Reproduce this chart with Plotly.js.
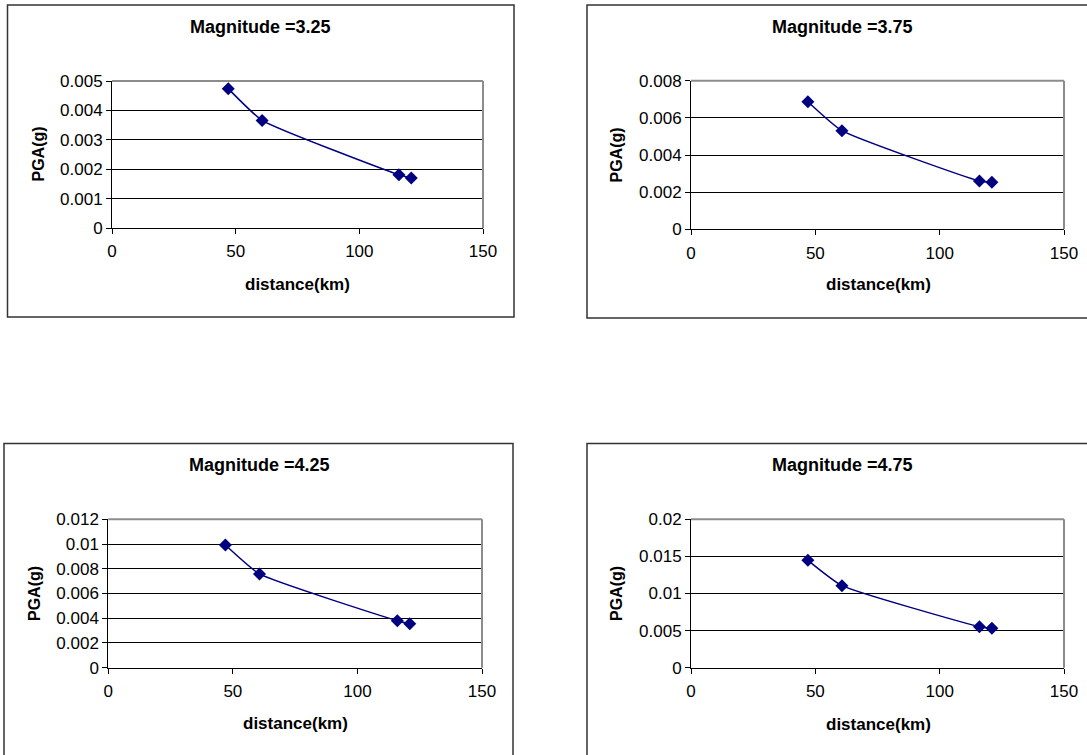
<!DOCTYPE html>
<html>
<head>
<meta charset="utf-8">
<script src="https://cdn.plot.ly/plotly-3.0.1.min.js"></script>
<style>
html,body{margin:0;padding:0;background:#fff;}
#chart{width:1087px;height:755px;}
</style>
</head>
<body>
<div id="chart"></div>
<script>
// ---- data ----
const distance = [47, 60.7, 116, 121];
const pga325 = [0.00474, 0.00366, 0.00181, 0.00170];
const pga375 = [0.00687, 0.00531, 0.00260, 0.00253];
const pga425 = [0.00992, 0.00758, 0.00380, 0.00356];
const pga475 = [0.01447, 0.01106, 0.00553, 0.00530];
const magnitudes = ["Magnitude =3.25", "Magnitude =3.75", "Magnitude =4.25", "Magnitude =4.75"];
const xTitle = "distance(km)";
const yTitle = "PGA(g)";
const yRanges = [[0, 0.005], [0, 0.008], [0, 0.012], [0, 0.02]];
const yDticks = [0.001, 0.002, 0.002, 0.005];
const series = [pga325, pga375, pga425, pga475];

// ---- layout geometry (pixels) ----
const W = 1087, H = 755;
const px = v => v / W;
const py = v => 1 - v / H;
const FONT = "Liberation Sans, Arial, sans-serif";

// plot areas: [x0, x1, yTop, yBottom]
const plots = [
  [112, 483, 81, 228],
  [691, 1064, 80.7, 229.3],
  [108.3, 482, 519.3, 667.7],
  [691, 1064, 519.3, 667.7]
];
// outer boxes [x0, y0, x1, y1]
const boxes = [
  [7.5, 5, 514, 317],
  [587, 5, 1095, 318],
  [4, 443.5, 513, 765],
  [587, 443.5, 1095, 765]
];
// title positions
const titlePos = [[260.5, 27], [842, 27], [259, 465], [842, 465]];
const xTitlePos = [[297, 284], [878.5, 284], [295.5, 723], [878.5, 724]];
const yTitlePos = [[38, 154.5], [616.5, 155], [34.5, 593.5], [616.5, 593.5]];

const traces = [];
const layout = {
  width: W, height: H,
  margin: {l: 0, r: 0, t: 0, b: 0},
  paper_bgcolor: "#ffffff",
  plot_bgcolor: "#ffffff",
  showlegend: false,
  font: {family: FONT, color: "#000", size: 16},
  shapes: [],
  annotations: []
};

for (let i = 0; i < 4; i++) {
  const n = i + 1;
  const xa = n === 1 ? "xaxis" : "xaxis" + n;
  const ya = n === 1 ? "yaxis" : "yaxis" + n;
  const xr = n === 1 ? "x" : "x" + n;
  const yr = n === 1 ? "y" : "y" + n;
  const p = plots[i];

  traces.push({
    x: distance, y: series[i],
    xaxis: xr, yaxis: yr,
    type: "scatter", mode: "lines+markers",
    line: {color: "#000080", width: 1.5, shape: "spline", smoothing: 0.45},
    marker: {symbol: "diamond", size: 10, color: "#000080"},
    hoverinfo: "x+y"
  });

  layout[xa] = {
    domain: [px(p[0]), px(p[1])],
    anchor: yr,
    range: [0, 150], dtick: 50, tick0: 0,
    showgrid: false, zeroline: false,
    showline: true, linecolor: "#000", linewidth: 1,
    ticks: "outside", ticklen: 5, tickcolor: "#000", tickwidth: 1,
    ticklabelstandoff: 3,
    tickfont: {family: FONT, size: 17, color: "#000"},
    fixedrange: true
  };
  layout[ya] = {
    domain: [py(p[3]), py(p[2])],
    anchor: xr,
    range: yRanges[i], dtick: yDticks[i], tick0: 0,
    showgrid: true, gridcolor: "#000", gridwidth: 1,
    zeroline: false,
    showline: true, linecolor: "#000", linewidth: 1,
    ticks: "outside", ticklen: 5, tickcolor: "#000", tickwidth: 1,
    tickfont: {family: FONT, size: 17, color: "#000"},
    fixedrange: true
  };

  // plot-area border (grey top and right)
  layout.shapes.push({
    type: "line", xref: xr + " domain", yref: yr + " domain",
    x0: 0, x1: 1, y0: 1, y1: 1,
    line: {color: "#8c8c8c", width: 2}, layer: "above"
  });
  layout.shapes.push({
    type: "line", xref: xr + " domain", yref: yr + " domain",
    x0: 1, x1: 1, y0: 0, y1: 1,
    line: {color: "#8c8c8c", width: 2}, layer: "above"
  });
  // outer chart box
  const b = boxes[i];
  layout.shapes.push({
    type: "rect", xref: "paper", yref: "paper",
    x0: px(b[0]), x1: px(b[2]), y0: py(b[3]), y1: py(b[1]),
    line: {color: "#333333", width: 1.5}, layer: "below"
  });

  layout.annotations.push({
    text: "<b>" + magnitudes[i] + "</b>",
    xref: "paper", yref: "paper",
    x: px(titlePos[i][0]), y: py(titlePos[i][1]),
    xanchor: "center", yanchor: "middle", showarrow: false,
    font: {family: FONT, size: 18, color: "#000"}
  });
  layout.annotations.push({
    text: "<b>" + xTitle + "</b>",
    xref: "paper", yref: "paper",
    x: px(xTitlePos[i][0]), y: py(xTitlePos[i][1]),
    xanchor: "center", yanchor: "middle", showarrow: false,
    font: {family: FONT, size: 17, color: "#000"}
  });
  layout.annotations.push({
    text: "<b>" + yTitle + "</b>",
    xref: "paper", yref: "paper",
    x: px(yTitlePos[i][0]), y: py(yTitlePos[i][1]),
    xanchor: "center", yanchor: "middle", showarrow: false, textangle: -90,
    font: {family: FONT, size: 16, color: "#000"}
  });
}

Plotly.newPlot("chart", traces, layout, {displayModeBar: false, staticPlot: true});
</script>
</body>
</html>
